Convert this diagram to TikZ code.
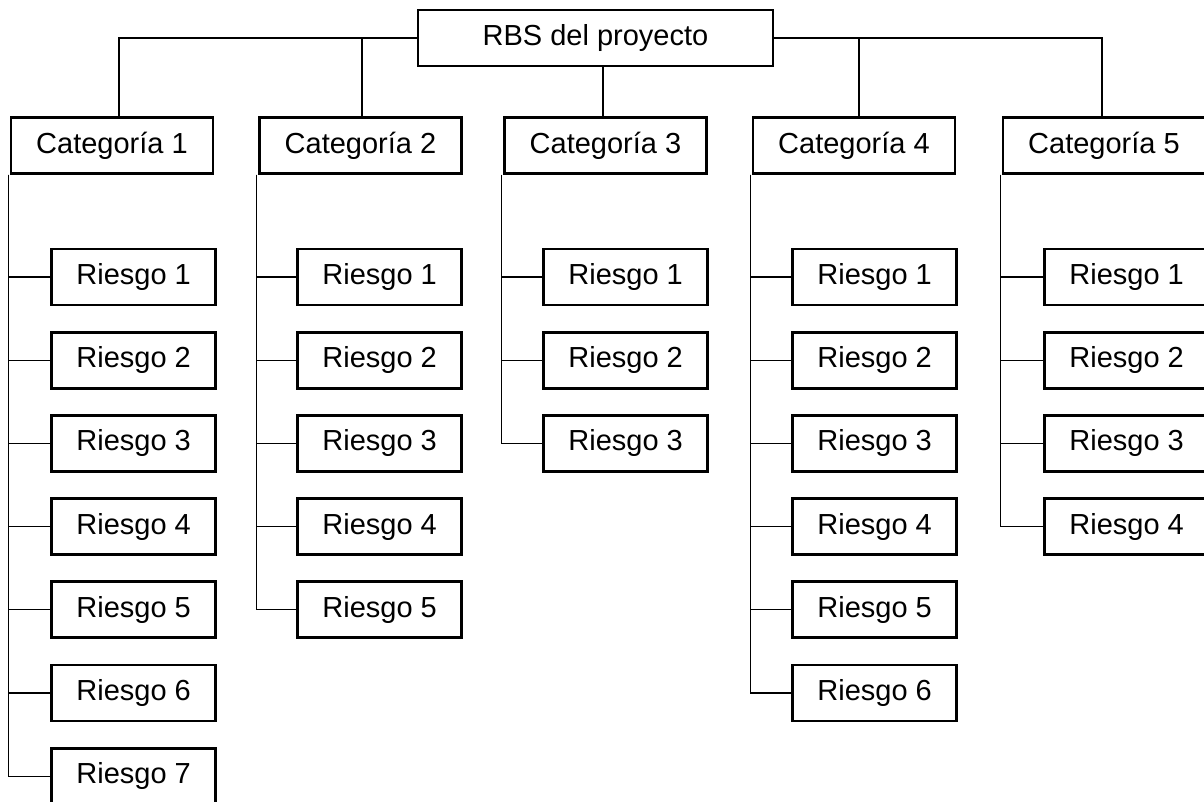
\documentclass[tikz,border=0pt]{standalone}
\usepackage{fontspec}
\setmainfont{Liberation Sans}
\begin{document}
\begin{tikzpicture}[x=1pt,y=-1pt,
  box/.style={draw, line width=2.7pt, minimum height=56pt, inner sep=0pt,
    fill=white, font=\fontsize{29}{32}\selectfont},
  rootbox/.style={box, minimum width=355pt},
  catbox/.style={box, minimum width=202pt},
  riskbox/.style={box, minimum width=164pt},
  link/.style={line width=1.2pt}]
\useasboundingbox (0,0) rectangle (1204,801);
\clip (0,0) rectangle (1204,801);

% root of the breakdown
\node[rootbox] (top) at (595.5,38) {RBS del proyecto};

% x positions where the bus drops to each category
\coordinate (d1) at (119,0);
\coordinate (d2) at (362,0);
\coordinate (d3) at (603,0);
\coordinate (d4) at (859,0);
\coordinate (d5) at (1102,0);

% categories with their risks hanging from a left spine
\foreach \i/\cx/\rx/\n in {1/112/50.3/7, 2/360.5/296.3/5, 3/605.5/542.3/3, 4/854/791.3/6, 5/1104/1043.3/4} {
  \node[catbox] (c\i) at (\cx,145.5) {Categoría \i};
  \foreach \k in {1,...,\n} {
    \node[riskbox, anchor=west] (r\i-\k) at ({\rx},{277+(\k-1)*83.2}) {Riesgo \k};
    \draw[link] ([xshift=-1.5pt]c\i.south west) |- (r\i-\k.west);
  }
}

% bus from the root to the categories
\draw[link] (top.west) -| (d1 |- c1.north);
\draw[link] (d2 |- top.west) -- (d2 |- c2.north);
\draw[link] (d3 |- top.south) -- (d3 |- c3.north);
\draw[link] (d4 |- top.east) -- (d4 |- c4.north);
\draw[link] (top.east) -| (d5 |- c5.north);
\end{tikzpicture}
\end{document}
